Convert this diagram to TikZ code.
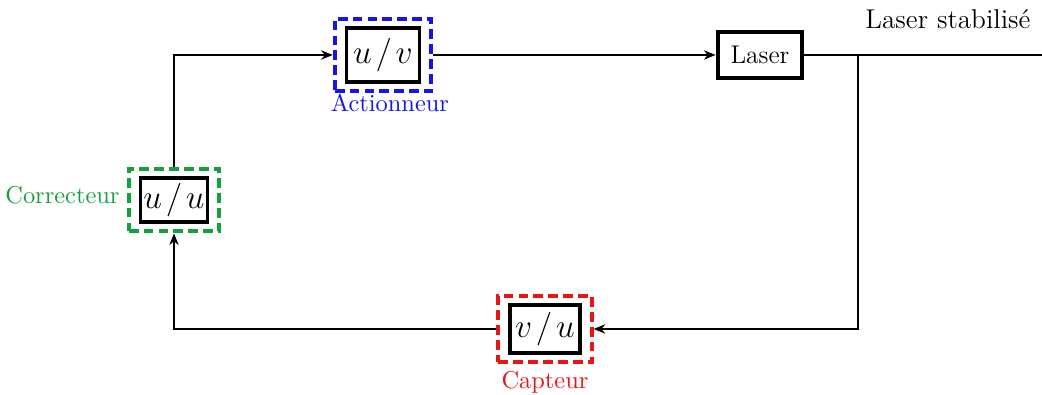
\documentclass[tikz,border=0pt]{standalone}
\usetikzlibrary{fit,arrows.meta}
\definecolor{cgreen}{RGB}{20,160,60}
\definecolor{cblue}{RGB}{20,20,235}
\definecolor{cred}{RGB}{235,20,20}
\begin{document}
\begin{tikzpicture}[x=0.43pt,y=-0.43pt,
  blockbox/.style={draw,line width=1.7pt,inner sep=0pt,align=center},
  tfbox/.style={blockbox,font=\Large},
  dashbox/.style={draw,line width=1.7pt,dash pattern=on 4.2pt off 2.2pt,inner xsep=4.2pt,inner ysep=3.2pt},
  lbl/.style={font=\fontsize{10.5}{12}\selectfont,inner sep=0pt},
  conn/.style={line width=0.8pt},
  arr/.style={conn,-{Stealth[length=5pt,width=4pt]}}]
\useasboundingbox (0,0) rectangle (1042,395);
% blocks
\node[tfbox,minimum width=28.8pt,minimum height=18.9pt] (corr) at (174,200) {$u\mkern2mu/\mkern2mu u$};
\node[dashbox,cgreen,fit=(corr)] (corrO) {};
\node[tfbox,minimum width=31.4pt,minimum height=23.2pt] (act) at (383,55) {$u\mkern2mu/\mkern2mu v$};
\node[dashbox,cblue,fit=(act)] (actO) {};
\node[tfbox,minimum width=30pt,minimum height=20.6pt] (capt) at (545,329) {$v\mkern2mu/\mkern2mu u$};
\node[dashbox,cred,fit=(capt)] (captO) {};
\node[blockbox,minimum width=36.5pt,minimum height=19.8pt,font=\fontsize{11}{13}\selectfont] (laser) at (760,55) {Laser};
% labels
\node[lbl,text=cgreen,anchor=base east] (lcorr) at (120,204) {Correcteur};
\node[lbl,text=cblue,anchor=base] (lact) at (390,112) {Actionneur};
\node[lbl,text=cred,anchor=base] (lcapt) at (545,389) {Capteur};
\node[lbl,font=\fontsize{11.7}{14}\selectfont,anchor=base] (lstab) at (948,29) {Laser stabilisé};
% connectors
\coordinate (outR) at (1042,55);
\coordinate (br) at (858,55);
\draw[conn] (laser.east) -- (outR);
\draw[arr] (br) |- (captO.east);
\draw[arr] (captO.west) -| (corrO.south);
\draw[arr] (corrO.north) |- (actO.west);
\draw[arr] (actO.east) -- (laser.west);
\end{tikzpicture}
\end{document}
